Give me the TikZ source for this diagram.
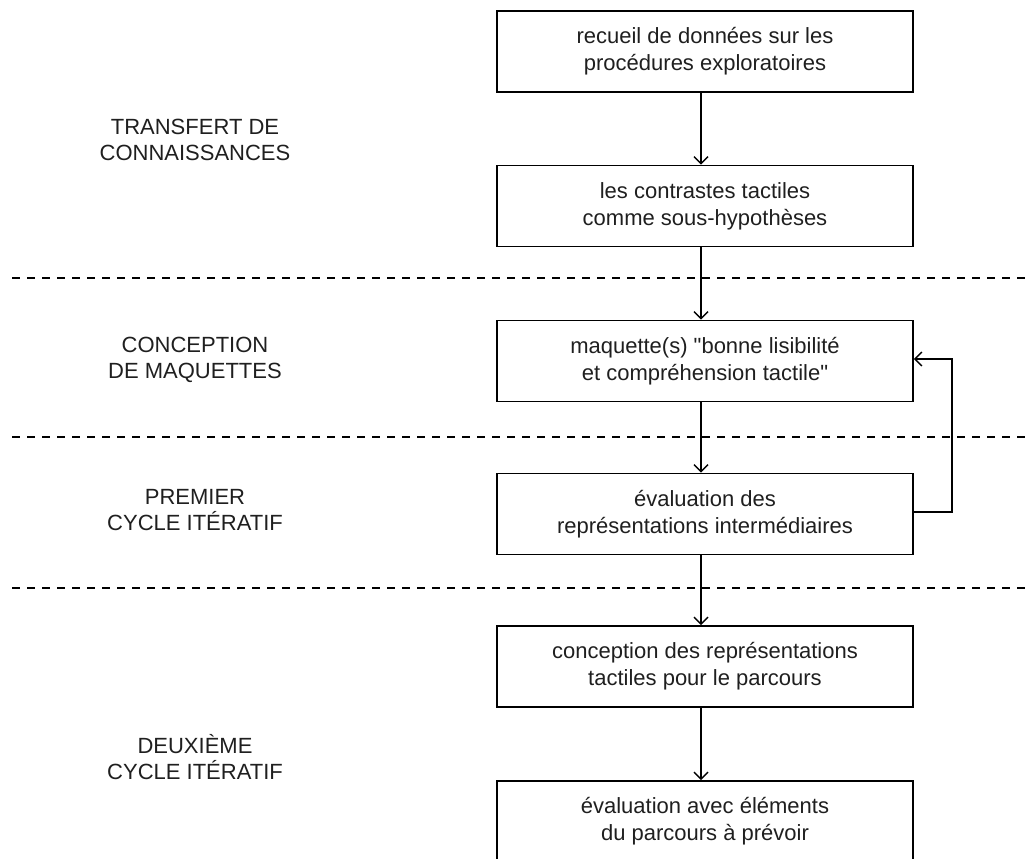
\documentclass[tikz,border=0pt]{standalone}
\usepackage{fontspec}
\setmainfont{Liberation Sans}[Ligatures=TeXOff]
\usetikzlibrary{arrows.meta}
\begin{document}
\begin{tikzpicture}[x=1pt,y=-1pt,
  box/.style={draw=black,line width=1.6pt,minimum width=416pt,minimum height=81pt,inner sep=0pt,align=center,text=black!88,font=\fontsize{22}{27}\selectfont},
  lbl/.style={align=center,text=black!88,font=\fontsize{22}{26}\selectfont},
  arr/.style={line width=1.4pt,-{Straight Barb[length=7pt,width=14pt,line width=1.4pt]}},
  sep/.style={line width=1.4pt,dash pattern=on 8pt off 7pt}]
\useasboundingbox (0,0) rectangle (1029,859);
\node[box] (b1) at (705,51.5) {recueil de données sur les\\procédures exploratoires};
\node[box] (b2) at (705,206) {les contrastes tactiles\\comme sous-hypothèses};
\node[box] (b3) at (705,361) {maquette(s) "bonne lisibilité\\et compréhension tactile"};
\node[box] (b4) at (705,514) {évaluation des\\représentations intermédiaires};
\node[box] (b5) at (705,666.5) {conception des représentations\\tactiles pour le parcours};
\node[box] (b6) at (705,821.5) {évaluation avec éléments\\du parcours à prévoir};
\coordinate (d1l) at (12,278); \coordinate (d1r) at (1029,278);
\coordinate (d2l) at (12,437); \coordinate (d2r) at (1029,437);
\coordinate (d3l) at (12,588); \coordinate (d3r) at (1029,588);
\draw[sep] (d1l) -- (d1r);
\draw[sep] (d2l) -- (d2r);
\draw[sep] (d3l) -- (d3r);
\node[lbl] (l1) at (195,140) {TRANSFERT DE\\CONNAISSANCES};
\node[lbl] (l2) at (195,360) {CONCEPTION\\DE MAQUETTES};
\node[lbl] (l3) at (195,510) {PREMIER\\CYCLE ITÉRATIF};
\node[lbl] (l4) at (195,757) {DEUXIÈME\\CYCLE ITÉRATIF};
\draw[arr] ([xshift=-4pt]b1.south) -- ([xshift=-4pt]b2.north);
\draw[arr] ([xshift=-4pt]b2.south) -- ([xshift=-4pt]b3.north);
\draw[arr] ([xshift=-4pt]b3.south) -- ([xshift=-4pt]b4.north);
\draw[arr] ([xshift=-4pt]b4.south) -- ([xshift=-4pt]b5.north);
\draw[arr] ([xshift=-4pt]b5.south) -- ([xshift=-4pt]b6.north);
\coordinate (lp) at (952,0);
\draw[arr] ([yshift=2pt]b4.east) -| ([yshift=2pt]lp |- b3.east) -- ([yshift=2pt]b3.east);
\end{tikzpicture}
\end{document}
